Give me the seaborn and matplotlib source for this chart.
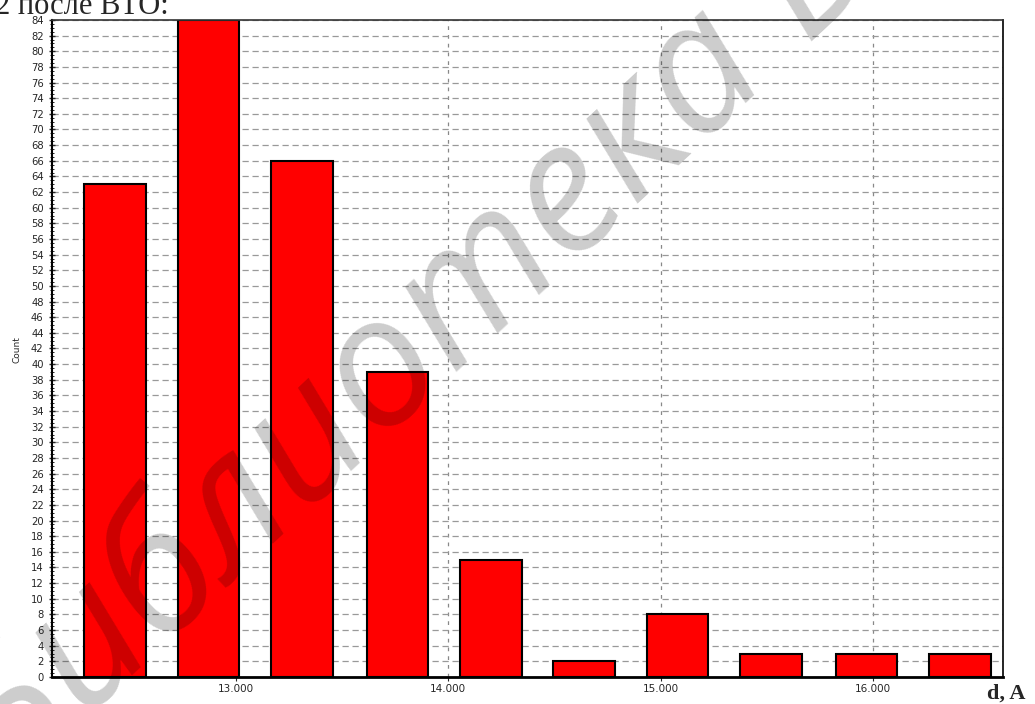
import matplotlib
matplotlib.use('Agg')
import matplotlib.pyplot as plt
from matplotlib.ticker import MultipleLocator
import seaborn as sns
import pandas as pd

# центры интервалов d, A и число отсчётов в каждом
d_centers = [12.43, 12.87, 13.31, 13.76, 14.20, 14.64, 15.08, 15.52, 15.97, 16.41]
counts = [63, 84, 66, 39, 15, 2, 8, 3, 3, 3]
x_ticks = [13, 14, 15, 16]
x_tick_labels = ['13.000', '14.000', '15.000', '16.000']
y_ticks = list(range(0, 85, 2))

df = pd.DataFrame({'d': d_centers, 'count': counts})

sns.set_style('white')
plt.rcParams['font.family'] = ['DejaVu Sans']

fig = plt.figure(figsize=(10.35, 7.04), dpi=100)
ax = fig.add_axes([0.0502, 0.0384, 0.9188, 0.9332])

sns.barplot(data=df, x='d', y='count', native_scale=True, width=0.66,
            color='#ff0000', saturation=1, edgecolor='black', linewidth=1.5,
            errorbar=None, ax=ax)

ax.set_xlim(12.133, 16.612)
ax.set_ylim(0, 84)
ax.set_xticks(x_ticks)
ax.set_xticklabels(x_tick_labels, fontsize=7.5)
ax.set_yticks(y_ticks)
ax.set_yticklabels([str(v) for v in y_ticks], fontsize=7.2)
ax.yaxis.set_minor_locator(MultipleLocator(0.5))
ax.tick_params(axis='y', which='major', length=4, direction='inout', width=1, pad=4, left=True)
ax.tick_params(axis='y', which='minor', length=2.5, direction='inout', width=0.7, left=True)
ax.tick_params(axis='x', length=3, direction='out', pad=2, bottom=True)

# пунктирная сетка
ax.yaxis.grid(True, linestyle=(0, (5, 3)), color='#999999', linewidth=0.9)
ax.xaxis.grid(True, linestyle=(0, (3, 4)), color='#888888', linewidth=0.9)
ax.set_axisbelow(True)
ax.set_xlabel('')
ax.set_ylabel('')

for side in ['left', 'right', 'top', 'bottom']:
    ax.spines[side].set_visible(True)
    ax.spines[side].set_color('black')
ax.spines['bottom'].set_linewidth(2)
ax.spines['left'].set_linewidth(1.5)
ax.spines['top'].set_linewidth(1.2)
ax.spines['top'].set_color('#333333')
ax.spines['right'].set_linewidth(1.2)

fig.text(17 / 1035, 0.504, 'Count', rotation=90, fontsize=6.5, ha='center', va='center')
fig.text(-0.005, 690 / 704, '2 после ВТО:', fontsize=22, family='Liberation Serif', va='baseline')
fig.text(987 / 1035, 5 / 704, 'd, A', fontsize=16, family='Liberation Serif',
         fontweight='bold', va='baseline')

# водяной знак
fig.text(0.009, -0.121, 'Библиотека БГУИР', rotation=43, rotation_mode='anchor',
         ha='left', va='baseline', fontsize=130, color='black', alpha=0.2,
         style='italic', family='Open Sans', zorder=10)

fig.savefig('out.png', dpi=100)
